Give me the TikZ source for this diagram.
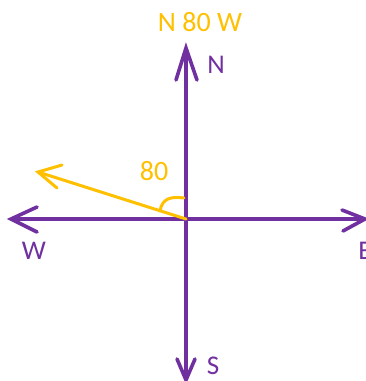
\documentclass[tikz,border=0pt]{standalone}
\usepackage{fontspec}
\setmainfont{Carlito}
\definecolor{axpurple}{HTML}{7030A0}
\definecolor{yel}{HTML}{FFC000}
\begin{document}
\begin{tikzpicture}[x=1pt,y=-1pt,
  axis/.style={draw=axpurple,line width=3.2pt},
  chev/.style={draw=axpurple,line width=3.6pt,line cap=round,line join=miter},
  yline/.style={draw=yel,line width=3pt,line cap=round,line join=miter},
  plab/.style={text=axpurple,font=\fontsize{27}{30}\selectfont,inner sep=0pt},
  ylab/.style={text=yel,font=\fontsize{28}{32}\selectfont,inner sep=0pt}]
\useasboundingbox (0,0) rectangle (366,381);
\fill[white] (0,0) rectangle (366,381);
\coordinate (O) at (186,219);
\coordinate (Nt) at (186,48);
\coordinate (St) at (186,380);
\coordinate (Wt) at (11,219);
\coordinate (Et) at (365,219);
\coordinate (Yt) at (38,172);
% axes
\draw[axis] (O) -- (Nt);
\draw[axis] (O) -- (St);
\draw[axis] (O) -- (Wt);
\draw[axis] (O) -- (Et);
% arrowheads
\draw[chev] (Nt) ++(-10,32) -- (Nt) -- ++(11,32);
\draw[chev] (St) ++(-9,-21) -- (St) -- ++(9,-21);
\draw[chev] (Wt) ++(26,-12) -- (Wt) -- ++(26,13);
\draw[chev] (Et) ++(-23,-9) -- (Et) -- ++(-22,12);
% yellow direction
\draw[yline] (O) -- (Yt);
\draw[yline] (Yt) ++(24,-7) -- (Yt) -- ++(19,16);
\draw[yline] (160,211) .. controls (162,199) and (170,196) .. (184,198);
% labels
\node[ylab] (title) at (200,22) {N 80 W};
\node[ylab] (ang) at (154,171) {80};
\node[plab] (N) at (216,65) {N};
\node[plab] (W) at (34,251) {W};
\node[plab] (E) at (365,251) {E};
\node[plab] (S) at (213,366) {S};
\end{tikzpicture}
\end{document}
